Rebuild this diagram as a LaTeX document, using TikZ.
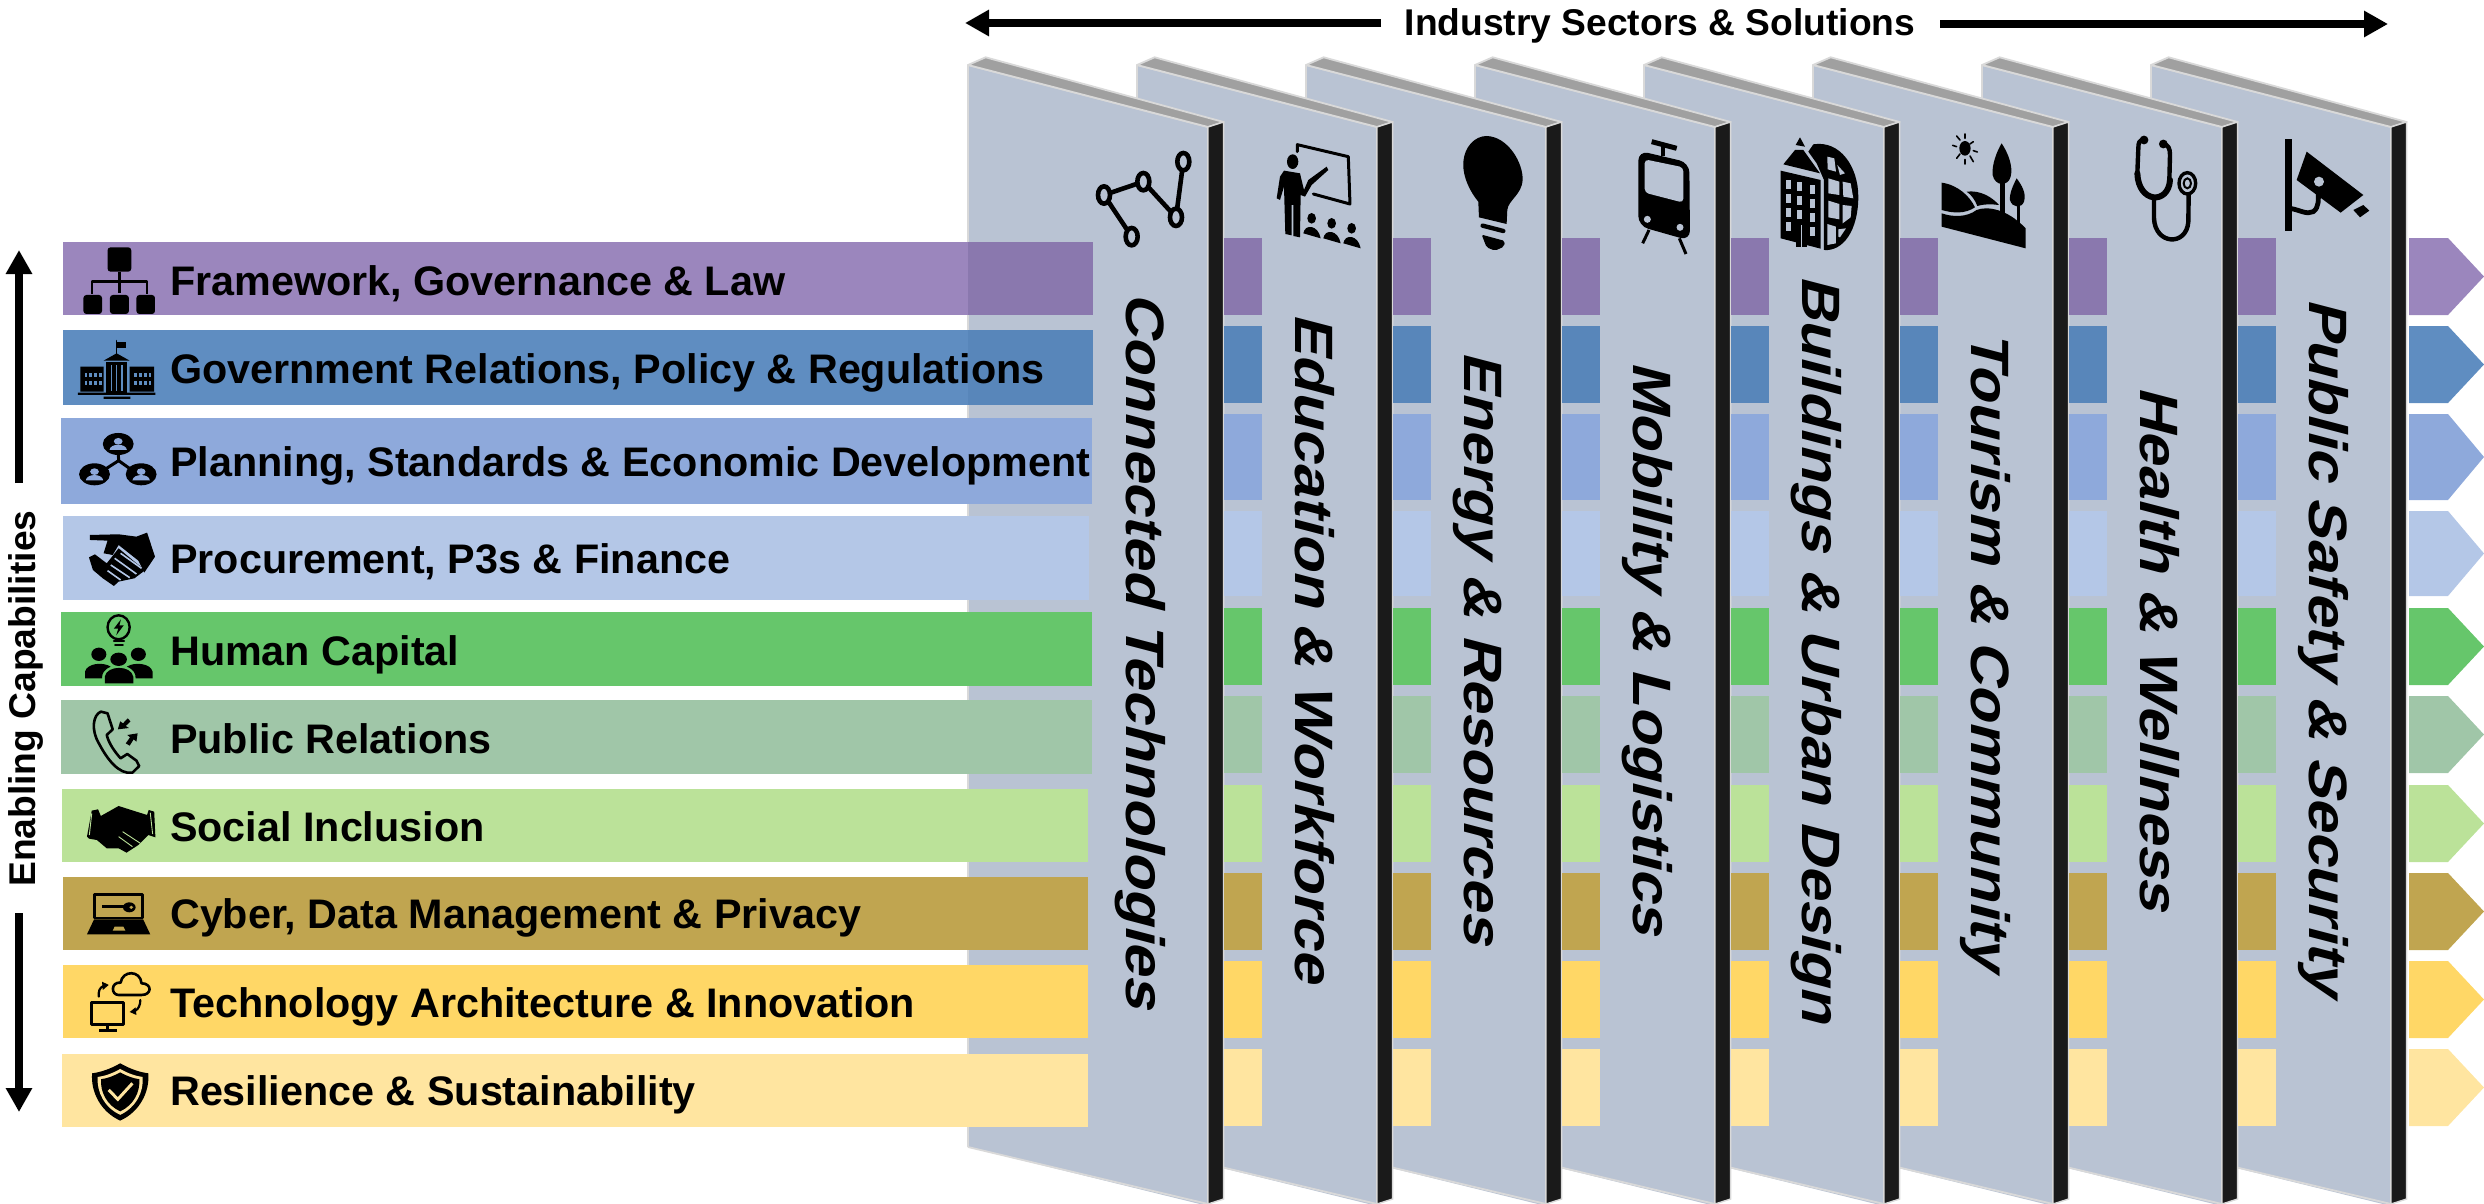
\documentclass[tikz,border=0pt]{standalone}
\usepackage{fontspec}
\setmainfont{Liberation Sans}
\usetikzlibrary{arrows.meta}
\definecolor{panelc}{HTML}{B9C3D3}
\definecolor{edgec}{HTML}{D9D9D9}
\definecolor{topc}{HTML}{A0A0A0}
\definecolor{bandc}{HTML}{1A1A1A}
\definecolor{aA}{HTML}{9B86BD}\definecolor{bA}{HTML}{8A78AE}
\definecolor{aB}{HTML}{5F8DC1}\definecolor{bB}{HTML}{5886BA}
\definecolor{aC}{HTML}{8EA9DB}\definecolor{bC}{HTML}{8EA9DB}
\definecolor{aD}{HTML}{B4C7E7}\definecolor{bD}{HTML}{B4C7E7}
\definecolor{aE}{HTML}{66C66B}\definecolor{bE}{HTML}{66C66B}
\definecolor{aF}{HTML}{A0C6A8}\definecolor{bF}{HTML}{A0C6A8}
\definecolor{aG}{HTML}{BBE299}\definecolor{bG}{HTML}{BBE299}
\definecolor{aH}{HTML}{C0A550}\definecolor{bH}{HTML}{C0A550}
\definecolor{aI}{HTML}{FFD766}\definecolor{bI}{HTML}{FFD766}
\definecolor{aJ}{HTML}{FFE5A0}\definecolor{bJ}{HTML}{FFE5A0}
\tikzset{
  edged/.style={draw=edgec,line width=1.8pt,line join=round},
  bartxt/.style={anchor=base west,inner sep=0,font=\fontsize{41.3}{41.3}\selectfont\bfseries},
  headtxt/.style={inner sep=0,font=\fontsize{37.2}{37.2}\selectfont\bfseries},
  paneltxt/.style={anchor=base west,inner sep=0,transform shape,font=\fontsize{60}{60}\selectfont\bfseries},
  bigarrow/.style={line width=8pt,-{Triangle[length=24pt,width=25pt]}},
  ink/.style={fill=black,draw=none},
  wire/.style={draw=black,line width=#1,line cap=round,line join=round,fill=none},
  wire/.default=3pt,
  leftA/.style={shift={(0,220)},x=.3954pt,y=-.3333pt},
  leftB/.style={shift={(0,680)},x=.3954pt,y=-.3333pt},
  zoomA/.style={shift={(1080,130)},x=.3333pt,y=-.3333pt},
  zoomB/.style={shift={(1600,130)},x=.3333pt,y=-.3333pt},
  zoomC/.style={shift={(2080,130)},x=.3333pt,y=-.3333pt}
}
\newcommand\paneltext[5]{\begin{scope}[shift={(#2,#3)}]\node[paneltxt,cm={0,-#5,.9,-.234,(0,0)}] (#1) at (0,0) {#4};\end{scope}}
\begin{document}
\begin{tikzpicture}[x=1pt,y=-1pt]
\useasboundingbox (0,0) rectangle (2484,1204);
% panels
\foreach \o in {1183,1014,845,676,507,338,169,0}{
  \begin{scope}[xshift=\o pt]
    \fill[panelc] (968,65) -- (1208,127) -- (1208,1206) -- (968,1147) -- cycle;
    \draw[edged] (968,1147) -- (968,65) -- (1208,127) -- (1208,1206);
    \draw[edged] (968,1147) -- (1208,1204);
    \filldraw[fill=topc,edged] (968,65) -- (985.6,57.3) -- (1223.6,122) -- (1208,127) -- cycle;
    \filldraw[fill=bandc,draw=edgec,line width=1.4pt] (1208,127) -- (1223.6,122) -- (1223.6,1199) -- (1208,1204) -- cycle;
  \end{scope}
}
% left bars
\foreach \xa/\ya/\xb/\yb/\ca/\cb in {
  63/242/1093/315/aA/bA, 63/330/1093/405/aB/bB, 61/418/1092/504/aC/bC, 63/516/1089/600/aD/bD,
  61/612/1092/686/aE/bE, 61/700/1092/774/aF/bF, 62/789/1088/862/aG/bG, 63/877/1088/950/aH/bH,
  63/965/1088/1038/aI/bI, 62/1054/1088/1127/aJ/bJ}{
  \fill[\ca] (\xa,\ya) rectangle (968,\yb);
  \fill[\cb] (968,\ya) rectangle (\xb,\yb);
}
% segments and tips
\foreach \ya/\yb/\ca/\cb in {
  238/315/aA/bA, 326/403/aB/bB, 414/500/aC/bC, 511/596/aD/bD, 608/685/aE/bE,
  696/773/aF/bF, 785/862/aG/bG, 873/950/aH/bH, 961/1038/aI/bI, 1049/1126/aJ/bJ}{
  \foreach \o in {0,169,338,507,676,845,1014}{
    \fill[\cb] (1223.6+\o,\ya) rectangle (1262+\o,\yb);
  }
  \fill[\ca] (2409,\ya) -- (2448,\ya) -- (2484,{(\ya+\yb)/2}) -- (2448,\yb) -- (2409,\yb) -- cycle;
}
% bar labels
\node[bartxt] (t1) at (170,295) {Framework, Governance \& Law};
\node[bartxt] (t2) at (170,383) {Government Relations, Policy \& Regulations};
\node[bartxt] (t3) at (170,476) {Planning, Standards \& Economic Development};
\node[bartxt] (t4) at (170,573) {Procurement, P3s \& Finance};
\node[bartxt] (t5) at (170,665) {Human Capital};
\node[bartxt] (t6) at (170,753) {Public Relations};
\node[bartxt] (t7) at (170,841) {Social Inclusion};
\node[bartxt] (t8) at (170,928) {Cyber, Data Management \& Privacy};
\node[bartxt] (t9) at (170,1017) {Technology Architecture \& Innovation};
\node[bartxt] (t10) at (170,1105) {Resilience \& Sustainability};
% headings and arrows
\node[headtxt] (ind) at (1660,26) {Industry Sectors \& Solutions};
\node[headtxt,rotate=90,anchor=base west] (ena) at (35,887) {Enabling Capabilities};
\coordinate (lefttail) at (1381,23); \coordinate (lefttip) at (965,23);
\coordinate (righttail) at (1940,24); \coordinate (righttip) at (2388,24);
\coordinate (uptail) at (19,483); \coordinate (uptip) at (19,250);
\coordinate (downtail) at (19,913); \coordinate (downtip) at (19,1112);
\draw[bigarrow] (lefttail) -- (lefttip);
\draw[bigarrow] (righttail) -- (righttip);
\draw[bigarrow] (uptail) -- (uptip);
\draw[bigarrow] (downtail) -- (downtip);
% panel labels
\paneltext{p1}{1126}{292}{Connected Technologies}{1.01}
\paneltext{p2}{1295}{313}{Education \& Workforce}{1.01}
\paneltext{p3}{1464}{351}{Energy \& Resources}{1.01}
\paneltext{p4}{1633}{361}{Mobility \& Logistics}{1.012}
\paneltext{p5}{1802}{275}{Buildings \& Urban Design}{1.01}
\paneltext{p6}{1971}{331}{Tourism \& Community}{1}
\paneltext{p7}{2140}{386}{Health \& Wellness}{1.01}
\paneltext{p8}{2309}{298}{Public Safety \& Security}{1.01}
% ---- left icons, upper group
\begin{scope}[leftA]
  % org chart
  \fill[rounded corners=3pt] (272,82) rectangle (332,155);
  \draw[wire=2.4pt,line cap=butt] (302,155) -- (302,218) (232,222) -- (232,185) -- (372,185) -- (372,222);
  \fill[rounded corners=3pt] (211,225) rectangle (258,282) (278,225) rectangle (326,282) (345,225) rectangle (392,282);
  % government
  \draw[wire=1.4pt] (295,362) -- (295,402);
  \fill (297,365) rectangle (318,385);
  \fill (262,422) -- (295,400) -- (328,422) -- cycle;
  \fill (268,425) rectangle (322,520);
  \fill (203,440) rectangle (262,515) (328,440) rectangle (390,515);
  \foreach \c in {282,295,308}{\draw[aB,line width=1.6pt] (\c,435) -- (\c,512);}
  \foreach \c in {214,226,238,250,340,352,364,376}{
    \fill[aB] (\c,458) rectangle ++(7,14);
    \fill[aB] (\c,482) rectangle ++(7,14);}
  \fill (197,518) rectangle (393,525) (262,530) rectangle (330,537);
  % network of people
  \draw[wire=3pt] (300,722) -- (299,690) (300,722) -- (250,760) (300,722) -- (345,760);
  \foreach \cx/\cy in {299/672,239/763,357/763}{
    \fill (\cx,\cy) ellipse [x radius=39,y radius=33];
    \fill[aC] (\cx,\cy-8) ellipse [x radius=11,y radius=10];
    \fill[aC] (\cx-22,\cy+18) .. controls (\cx-20,\cy-3) and (\cx+20,\cy-3) .. (\cx+22,\cy+18) -- cycle;
  }
  % handshake
  \fill (227,945) -- (300,943) -- (345,950) -- (372,938) -- (392,1010) -- (365,1058) -- (350,1022) -- (300,975) -- (285,1005) -- (262,1000) -- (272,962) -- (227,960) -- cycle;
  \fill (225,1012) -- (240,1003) -- (270,1030) -- (300,985) -- (345,1030) -- (368,1050) -- (340,1075) -- (300,1085) -- (288,1098) -- (260,1075) -- (235,1050) -- cycle;
  \draw[aD,line width=1.6pt] (290,1015) -- (345,1062) (280,1035) -- (328,1073) (272,1052) -- (305,1080) (305,1000) -- (358,1045);
  % human capital
  \draw[wire=2.4pt] (300,1222) ellipse [x radius=28,y radius=36];
  \fill (306,1198) -- (288,1226) -- (299,1226) -- (294,1246) -- (313,1216) -- (302,1216) -- cycle;
  \draw[wire=2pt] (288,1264) -- (314,1264) (291,1274) -- (311,1274);
  \fill (250,1303) ellipse [x radius=19,y radius=20] (350,1303) ellipse [x radius=19,y radius=20] (300,1318) ellipse [x radius=21,y radius=20];
  \fill (215,1375) -- (215,1355) .. controls (220,1330) and (260,1325) .. (280,1340) .. controls (262,1350) and (258,1360) .. (258,1375) -- cycle;
  \fill (386,1375) -- (386,1355) .. controls (381,1330) and (341,1325) .. (321,1340) .. controls (339,1350) and (343,1360) .. (343,1375) -- cycle;
  \fill (265,1390) -- (265,1370) .. controls (270,1335) and (332,1335) .. (337,1370) -- (337,1390) -- cycle;
\end{scope}
% ---- left icons, lower group
\begin{scope}[leftB]
  % phone
  \draw[wire=2.6pt] (255,95) .. controls (235,105) and (230,150) .. (250,190) .. controls (270,235) and (300,285) .. (335,278) -- (352,258) -- (345,242) -- (322,222) -- (305,235) .. controls (290,215) and (275,190) .. (270,165) -- (285,148) -- (272,100) -- cycle;
  \fill (298,148) -- (304,124) -- (311,130) -- (323,115) -- (330,124) -- (318,138) -- (326,144) -- cycle;
  \fill (348,160) -- (322,165) -- (329,172) -- (318,190) -- (328,197) -- (338,178) -- (345,185) -- cycle;
  % dark handshake
  \fill (220,470) -- (232,392) -- (248,388) -- (255,408) -- (300,378) -- (345,395) -- (372,405) -- (376,390) -- (390,395) -- (393,472) -- (375,465) -- (350,495) -- (320,518) -- (300,505) -- (270,505) -- (245,480) -- (225,476) -- cycle;
  \draw[aG,line width=.9pt] (310,455) -- (355,490) (300,470) -- (335,500) (232,400) -- (226,465) (380,398) -- (386,462);
  % laptop
  \draw[wire=2.8pt,line cap=butt] (240,643) rectangle (360,714);
  \fill (327,682) ellipse [x radius=16,y radius=15];
  \fill[aH] (332,682) ellipse [x radius=5,y radius=5];
  \draw[wire=2.6pt,line cap=butt] (258,680) -- (315,680);
  \fill (238,718) -- (362,718) -- (380,763) -- (220,763) -- cycle;
  \fill[aH] (290,740) -- (312,740) -- (317,752) -- (285,752) -- cycle;
  % monitor and cloud
  \draw[wire=2.8pt] (232,967) rectangle (313,1033);
  \draw[wire=3pt,line cap=butt] (272,1033) -- (272,1050) (250,1052) -- (295,1052);
  \draw[wire=2.6pt] (300,945) .. controls (280,945) and (280,905) .. (305,908) .. controls (310,870) and (355,870) .. (358,910) .. controls (385,910) and (385,945) .. (358,945) -- cycle;
  \draw[wire=2.2pt] (250,950) .. controls (248,935) and (252,922) .. (262,918);
  \fill (275,915) -- (258,905) -- (260,930) -- cycle;
  \draw[wire=2.2pt] (355,960) .. controls (355,975) and (350,988) .. (342,992);
  \fill (328,996) -- (345,1005) -- (343,982) -- cycle;
  % shield
  \begin{scope}[shift={(304,1235)}]
    \foreach \s/\col in {1/black,.8/aJ,.68/black}{
      \fill[\col,scale=\s] (0,-85) .. controls (25,-68) and (50,-58) .. (71,-55) .. controls (75,0) and (50,60) .. (0,87) .. controls (-50,60) and (-75,0) .. (-71,-55) .. controls (-50,-58) and (-25,-68) .. (0,-85) -- cycle;
    }
    \draw[aJ,line width=3pt] (-29,-5) -- (-6,23) -- (31,-25);
  \end{scope}
\end{scope}
% ---- panel icons
\begin{scope}[zoomA]
  % connected nodes
  \draw[wire=4.6pt] (155,320) -- (72,195) -- (190,155) -- (288,262) -- (310,95);
  \foreach \cx/\cy in {72/195,190/155,288/262,310/95,155/320}{
    \filldraw[fill=panelc,draw=black,line width=4.6pt] (\cx,\cy) ellipse [x radius=18,y radius=26];
  }
  % teacher
  \draw[wire=3pt] (652,65) -- (652,44) -- (805,80) -- (810,222) -- (700,192);
  \fill (638,95) ellipse [x radius=17,y radius=22];
  \fill (612,122) -- (660,130) -- (672,180) -- (685,150) -- (740,110) -- (745,120) -- (695,165) -- (675,200) -- (662,195) -- (660,322) -- (640,318) -- (640,225) -- (635,225) -- (635,316) -- (616,312) -- (612,170) -- (600,210) -- (590,205) -- (600,140) -- cycle;
  \foreach \dx/\dy in {0/0,60/15,120/30}{
    \begin{scope}[shift={(\dx,\dy)}]
      \fill (695,265) ellipse [x radius=13,y radius=16];
      \fill (670,310) .. controls (675,280) and (715,285) .. (722,325) -- cycle;
    \end{scope}
  }
  % bulb
  \fill (1220,18) .. controls (1285,20) and (1330,100) .. (1328,150) .. controls (1325,195) and (1285,210) .. (1282,240) -- (1280,282) -- (1197,262) -- (1195,215) .. controls (1170,185) and (1148,140) .. (1150,100) .. controls (1152,50) and (1185,18) .. (1220,18) -- cycle;
  \draw[wire=4.4pt] (1208,287) -- (1270,303);
  \fill[rounded corners=2pt] (1205,314) -- (1275,333) -- (1272,350) -- (1245,362) -- (1220,352) -- cycle;
\end{scope}
\begin{scope}[zoomB]
  % tram
  \draw[wire=5pt,line cap=butt] (155,35) -- (230,55);
  \draw[wire=4pt,line cap=butt] (190,45) -- (190,78);
  \fill[rounded corners=10pt] (115,62) -- (268,98) -- (270,332) -- (115,288) -- cycle;
  \fill[panelc,rounded corners=4pt] (134,88) -- (250,112) -- (250,218) -- (134,188) -- cycle;
  \fill[panelc] (142,268) circle (3.5pt) (240,292) circle (3.5pt);
  \draw[wire=3pt,line cap=butt] (147,300) -- (128,340) (238,325) -- (258,372);
  % building
  \fill (542,122) -- (662,150) -- (662,356) -- (542,325) -- cycle;
  \fill (550,103) -- (585,60) -- (610,60) -- (660,130) -- cycle;
  \fill (600,22) -- (587,45) -- (615,50) -- cycle;
  \foreach \c/\h in {558/0,590/6,630/15}{
    \foreach \r in {0,42,84,126}{
      \fill[panelc] (\c,150+\r+\h) rectangle ++(16,26);
    }
  }
  \fill (588,270) rectangle (620,352);
  \draw[panelc,line width=1.2pt] (604,285) -- (604,352);
  % globe
  \fill (640,43) .. controls (720,30) and (775,110) .. (775,200) .. controls (775,300) and (730,365) .. (672,360) -- (672,150) -- (650,100) -- (625,65) -- cycle;
  \fill[panelc]
    (682,80) -- (703,85) -- (708,125) -- (683,118) -- cycle
    (712,105) -- (735,130) -- (720,135) -- cycle
    (685,145) -- (718,155) -- (718,195) -- (685,190) -- cycle
    (728,155) -- (752,160) -- (760,205) -- (730,200) -- cycle
    (685,212) -- (718,222) -- (718,268) -- (685,262) -- cycle
    (728,225) -- (755,228) -- (752,262) -- (728,280) -- cycle
    (682,282) -- (708,290) -- (708,340) -- (682,345) -- cycle
    (715,298) -- (738,295) -- (720,322) -- (715,320) -- cycle;
  % tourism
  \fill (1095,55) ellipse [x radius=17,y radius=22];
  \draw[wire=1.6pt,line cap=round] (1095,12) -- (1095,25) (1095,88) -- (1095,102) (1058,46) -- (1070,50) (1120,62) -- (1132,66) (1070,18) -- (1080,30) (1110,78) -- (1120,95) (1120,35) -- (1110,42) (1080,72) -- (1070,85);
  \fill (1205,40) .. controls (1225,70) and (1240,110) .. (1232,140) .. controls (1225,170) and (1185,170) .. (1178,135) .. controls (1175,105) and (1190,65) .. (1205,40) -- cycle;
  \fill (1200,160) rectangle (1214,250);
  \fill (1250,145) .. controls (1265,165) and (1280,190) .. (1272,215) .. controls (1265,235) and (1237,235) .. (1230,210) .. controls (1228,190) and (1240,165) .. (1250,145) -- cycle;
  \fill (1250,225) rectangle (1260,280);
  \fill (1025,158) .. controls (1075,165) and (1110,200) .. (1125,232) .. controls (1095,252) and (1060,250) .. (1025,240) -- cycle;
  \fill (1100,185) .. controls (1140,180) and (1175,200) .. (1197,225) .. controls (1175,222) and (1150,222) .. (1132,228) .. controls (1125,210) and (1115,195) .. (1100,185) -- cycle;
  \fill (1025,250) .. controls (1060,262) and (1100,262) .. (1130,240) .. controls (1160,228) and (1220,235) .. (1277,295) -- (1277,355) -- (1025,290) -- cycle;
\end{scope}
\begin{scope}[zoomC]
  % stethoscope
  \draw[wire=4.4pt] (190,30) .. controls (178,30) and (175,38) .. (175,55) -- (172,130);
  \draw[wire=4.4pt] (250,42) .. controls (265,45) and (270,55) .. (270,75) -- (268,150);
  \draw[wire=6pt] (172,130) .. controls (175,220) and (265,225) .. (270,150);
  \fill (192,30) circle (4.4pt) (250,42) circle (4.4pt);
  \draw[wire=4.4pt] (222,205) -- (222,265) .. controls (225,345) and (320,350) .. (325,275) -- (326,195);
  \filldraw[fill=panelc,draw=black,line width=3.4pt] (322,160) ellipse [x radius=25,y radius=32];
  \draw[black,line width=2pt] (322,160) ellipse [x radius=11,y radius=15];
  % camera
  \draw[wire=6.5pt,line cap=butt] (625,28) -- (625,302);
  \fill (680,65) -- (850,195) -- (782,248) -- (650,150) -- cycle;
  \fill[panelc] (717,155) circle (5pt);
  \draw[wire=4.8pt,line cap=butt] (630,235) .. controls (660,240) and (680,255) .. (700,245) .. controls (718,232) and (715,205) .. (715,190);
  \fill (820,240) -- (850,225) -- (868,242) -- (840,262) -- cycle;
\end{scope}
\end{tikzpicture}
\end{document}
